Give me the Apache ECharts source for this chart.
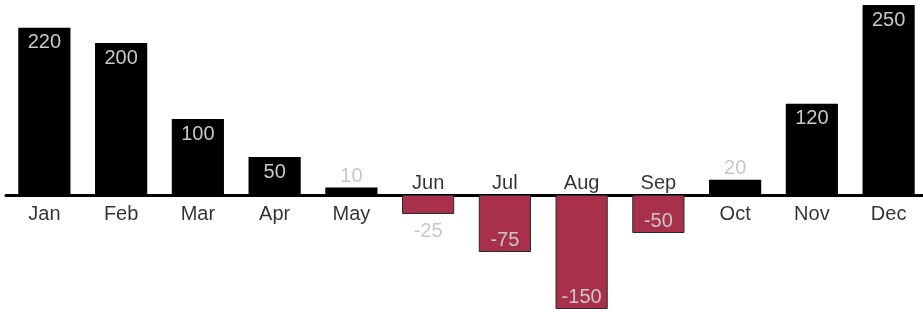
<!DOCTYPE html>
<html>
<head>
<meta charset="UTF-8">
<title>Monthly balance</title>
<script src="https://cdn.jsdelivr.net/npm/echarts@6/dist/echarts.min.js"></script>
<style>
  html, body { margin: 0; padding: 0; background: #fff; }
</style>
</head>
<body>
<div id="main" style="width: 923px; height: 312px;"></div>
<script type="text/javascript">
var months = ['Jan', 'Feb', 'Mar', 'Apr', 'May', 'Jun', 'Jul', 'Aug', 'Sep', 'Oct', 'Nov', 'Dec'];
var values = [220, 200, 100, 50, 10, -25, -75, -150, -50, 20, 120, 250];

var chart = echarts.init(document.getElementById('main'));
var font = 'Liberation Sans, Arial, sans-serif';

// bar data, label goes inside when the bar is tall enough
var barData = values.map(function (v) {
  var inside = Math.abs(v) >= 50;
  var pos = v >= 0 ? (inside ? 'insideTop' : 'top') : (inside ? 'insideBottom' : 'bottom');
  var dist = inside ? (v >= 0 ? 5 : 2) : (v >= 0 ? 1 : 7);
  return {
    value: v,
    itemStyle: v >= 0
      ? { color: '#000', borderColor: '#000', borderWidth: 0 }
      : { color: '#a9304a', borderColor: '#2a2a2a', borderWidth: 1 },
    label: { position: pos, distance: dist }
  };
});

// month names sit on the zero line, on the opposite side of the bar
var nameData = values.map(function (v, i) {
  return {
    value: [i, 0],
    label: { position: v >= 0 ? 'bottom' : 'top', distance: v >= 0 ? 9 : 2 }
  };
});

chart.setOption({
  animation: false,
  grid: { left: 6, top: 5, width: 921, height: 304, outerBoundsMode: 'none' },
  xAxis: {
    type: 'category',
    data: months,
    axisLine: { onZero: true, lineStyle: { color: '#000', width: 3 } },
    axisTick: { show: false },
    axisLabel: { show: false },
    splitLine: { show: false }
  },
  yAxis: {
    type: 'value',
    min: -150,
    max: 250,
    show: false
  },
  series: [{
    type: 'bar',
    data: barData,
    barCategoryGap: '32%',
    z: 1,
    label: {
      show: true,
      color: '#c8c8c8',
      fontSize: 20,
      fontFamily: font
    }
  }, {
    type: 'scatter',
    data: nameData,
    symbolSize: 0,
    z: 3,
    label: {
      show: true,
      color: '#000',
      fontSize: 20,
      fontFamily: font,
      formatter: function (p) { return months[p.dataIndex]; }
    }
  }]
});
</script>
</body>
</html>
